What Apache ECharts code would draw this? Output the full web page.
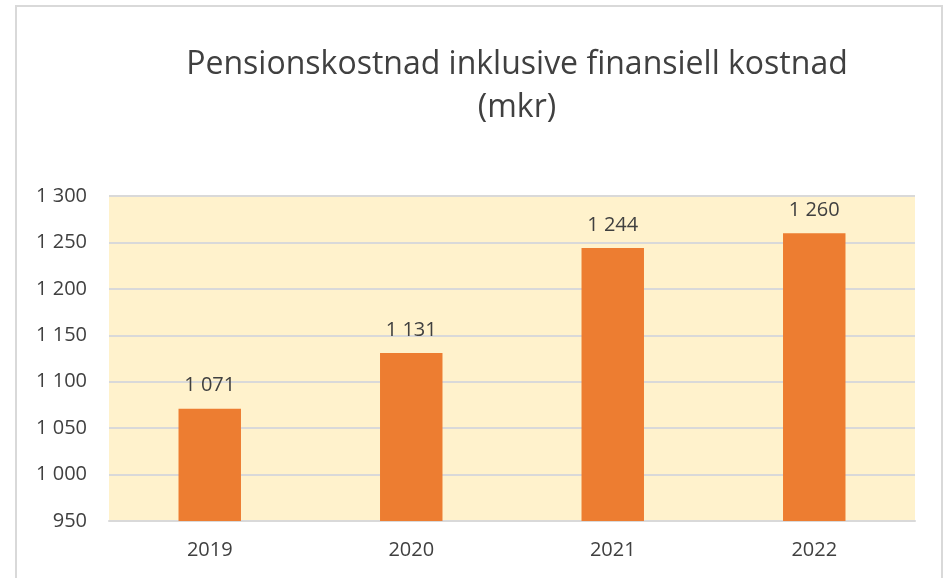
<!DOCTYPE html>
<html>
<head>
<meta charset="utf-8">
<title>Pensionskostnad</title>
<script src="https://cdn.jsdelivr.net/npm/echarts@6/dist/echarts.min.js"></script>
<style>
  html, body { margin: 0; padding: 0; background: #fff; }
  #main { width: 947px; height: 578px; }
</style>
</head>
<body>
<!-- diagram: pensionskostnad per år -->
<div id="main"></div>
<script>
// data
var years = ['2019', '2020', '2021', '2022']
var kostnad = [1071, 1131, 1244, 1260]
var yMin = 950
var yMax = 1300
var yStep = 50

// 1 071 -> mellanslag som tusentalsavgränsare
function fmt(v) {
  return String(v).replace(/\B(?=(\d{3})+(?!\d))/g, ' ')
}

var textColor = '#404040'
var font = 'Open Sans'

var myChart = echarts.init(document.getElementById('main'))

var option = {
  backgroundColor: '#fff',
  animation: false,
  title: {
    text: 'Pensionskostnad inklusive finansiell kostnad\n(mkr)',
    left: 512,
    top: 38,
    textAlign: 'center',
    textStyle: {
      fontFamily: font,
      fontWeight: 'normal',
      fontSize: 32,
      lineHeight: 43,
      color: textColor
    }
  },
  graphic: [
    {
      type: 'rect',
      shape: { x: 16, y: 6, width: 926, height: 600 },
      style: { fill: 'none', stroke: '#d9d9d9', lineWidth: 2 },
      silent: true
    }
  ],
  grid: {
    left: 109,
    right: 32,
    top: 196,
    bottom: 57,
    show: true,
    backgroundColor: '#FFF2CC',
    borderWidth: 0
  },
  xAxis: {
    type: 'category',
    data: years,
    axisLine: { lineStyle: { color: '#d9d9d9', width: 2 } },
    axisTick: { show: false },
    axisLabel: {
      margin: 19,
      fontFamily: font,
      fontSize: 20,
      color: textColor
    }
  },
  yAxis: {
    type: 'value',
    min: yMin,
    max: yMax,
    interval: yStep,
    axisLine: { show: false },
    axisTick: { show: false },
    splitLine: { lineStyle: { color: '#d9d9d9', width: 2 } },
    axisLabel: {
      margin: 22,
      fontFamily: font,
      fontSize: 20,
      color: textColor,
      formatter: fmt
    }
  },
  series: [
    {
      type: 'bar',
      data: kostnad,
      barWidth: '31%',
      itemStyle: { color: '#ED7D31' },
      label: {
        show: true,
        position: 'top',
        distance: 13,
        fontFamily: font,
        fontSize: 20,
        color: textColor,
        formatter: function (p) { return fmt(p.value) }
      }
    }
  ]
}

myChart.setOption(option)
</script>
</body>
</html>
